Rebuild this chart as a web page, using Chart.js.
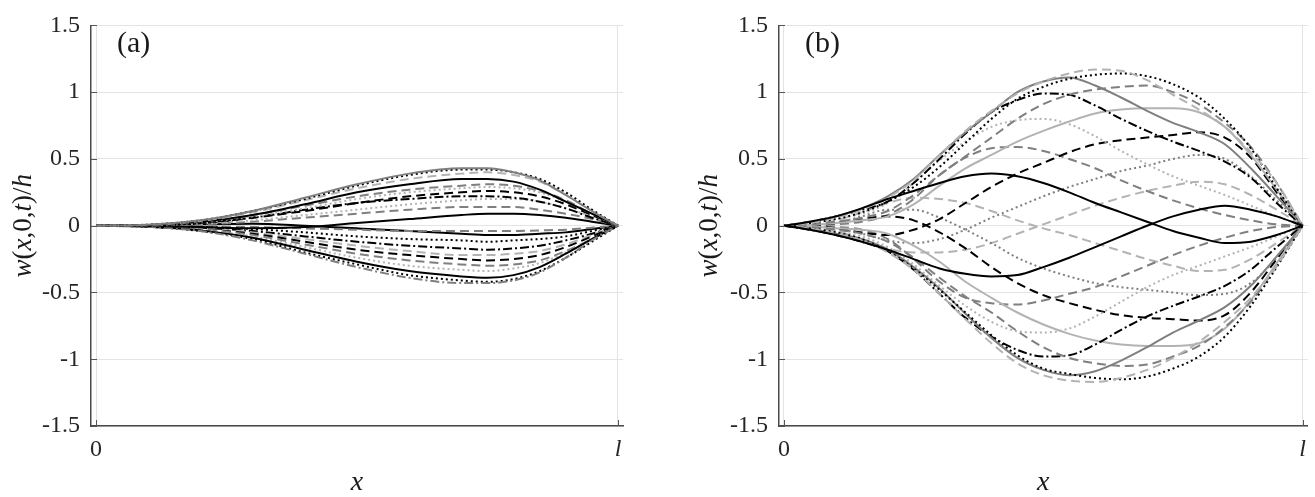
<!DOCTYPE html>
<html>
<head>
<meta charset="utf-8">
<title>w(x,0,t)/h</title>
<script src="https://cdn.jsdelivr.net/npm/chart.js@4.4.1/dist/chart.umd.min.js"></script>
<style>
  html, body { margin: 0; padding: 0; background: #fff; }
  body { width: 1315px; height: 497px; position: relative; overflow: hidden; }
  .painel { position: absolute; top: 0; height: 497px; }
  #painelA { left: 0; width: 660px; }
  #painelB { left: 660px; width: 655px; }
</style>
</head>
<body>
<div class="painel" id="painelA"><canvas id="graficoA" width="660" height="497"></canvas></div>
<div class="painel" id="painelB"><canvas id="graficoB" width="655" height="497"></canvas></div>
<script>
// eixos
const yTicks = [-1.5, -1, -0.5, 0, 0.5, 1, 1.5];
const xTicks = [0, 1];
const xTickLabels = ['0', 'l'];

// painel (a) - abscissas x/l
const xA = [0, 0.1, 0.2, 0.3, 0.4, 0.5, 0.6, 0.7, 0.75, 0.8, 0.85, 0.9, 0.95, 1];

// painel (a) - curvas de cima
const a1 = [0, 0.008, 0.04, 0.11, 0.21, 0.31, 0.39, 0.43, 0.43, 0.40, 0.34, 0.23, 0.11, 0];
const a2 = [0, 0.008, 0.04, 0.11, 0.20, 0.30, 0.38, 0.42, 0.42, 0.40, 0.35, 0.25, 0.12, 0];
const a3 = [0, 0.007, 0.035, 0.10, 0.19, 0.28, 0.35, 0.39, 0.40, 0.38, 0.33, 0.23, 0.11, 0];
const a4 = [0, 0.006, 0.03, 0.08, 0.16, 0.25, 0.31, 0.35, 0.35, 0.33, 0.27, 0.18, 0.09, 0];
const a5 = [0, 0.005, 0.03, 0.08, 0.15, 0.22, 0.27, 0.30, 0.31, 0.30, 0.26, 0.19, 0.09, 0];
const a6 = [0, 0.005, 0.025, 0.07, 0.13, 0.20, 0.25, 0.28, 0.29, 0.28, 0.25, 0.18, 0.09, 0];
const a7 = [0, 0.004, 0.02, 0.06, 0.11, 0.17, 0.22, 0.25, 0.26, 0.25, 0.22, 0.16, 0.08, 0];
const a8 = [0, 0.004, 0.02, 0.06, 0.12, 0.17, 0.20, 0.22, 0.22, 0.21, 0.18, 0.13, 0.06, 0];
const a9 = [0, 0.003, 0.015, 0.04, 0.08, 0.12, 0.16, 0.19, 0.20, 0.20, 0.18, 0.13, 0.07, 0];
const a10 = [0, 0.002, 0.01, 0.03, 0.06, 0.09, 0.12, 0.14, 0.14, 0.14, 0.12, 0.09, 0.05, 0];
const a11 = [0, -0.003, -0.01, -0.02, -0.01, 0.02, 0.05, 0.08, 0.09, 0.09, 0.08, 0.06, 0.03, 0];

// painel (a) - curvas de baixo
const a12 = [0, -0.008, -0.04, -0.11, -0.21, -0.31, -0.39, -0.43, -0.43, -0.41, -0.35, -0.24, -0.11, 0];
const a13 = [0, -0.008, -0.04, -0.10, -0.20, -0.29, -0.37, -0.41, -0.42, -0.40, -0.34, -0.24, -0.12, 0];
const a14 = [0, -0.007, -0.035, -0.09, -0.18, -0.27, -0.34, -0.38, -0.39, -0.37, -0.31, -0.21, -0.10, 0];
const a15 = [0, -0.006, -0.03, -0.08, -0.16, -0.24, -0.30, -0.33, -0.34, -0.32, -0.28, -0.20, -0.10, 0];
const a16 = [0, -0.005, -0.025, -0.07, -0.14, -0.21, -0.26, -0.29, -0.30, -0.29, -0.26, -0.19, -0.10, 0];
const a17 = [0, -0.005, -0.025, -0.06, -0.12, -0.18, -0.22, -0.25, -0.26, -0.25, -0.22, -0.16, -0.08, 0];
const a18 = [0, -0.004, -0.02, -0.05, -0.10, -0.15, -0.19, -0.22, -0.22, -0.21, -0.19, -0.14, -0.07, 0];
const a19 = [0, -0.003, -0.015, -0.04, -0.08, -0.12, -0.15, -0.17, -0.18, -0.17, -0.15, -0.11, -0.06, 0];
const a20 = [0, -0.002, -0.01, -0.025, -0.05, -0.08, -0.10, -0.11, -0.12, -0.11, -0.10, -0.08, -0.04, 0];
const a21 = [0, -0.001, -0.005, -0.01, -0.02, -0.03, -0.04, -0.04, -0.04, -0.04, -0.035, -0.03, -0.015, 0];
const a22 = [0, 0.003, 0.01, 0.015, 0, -0.02, -0.04, -0.06, -0.07, -0.07, -0.06, -0.05, -0.025, 0];

// painel (b) - abscissas x/l
const xB = [0, 0.05, 0.1, 0.15, 0.2, 0.25, 0.3, 0.35, 0.4, 0.45, 0.5, 0.55, 0.6, 0.65, 0.7, 0.75, 0.8, 0.85, 0.9, 0.95, 1];

// painel (b) - pares de curvas
const b1 = [0, 0.03, 0.07, 0.13, 0.20, 0.26, 0.32, 0.37, 0.39, 0.37, 0.32, 0.25, 0.17, 0.10, 0.03, -0.04, -0.09, -0.13, -0.12, -0.07, 0];
const b2 = [0, -0.03, -0.07, -0.12, -0.18, -0.25, -0.32, -0.36, -0.38, -0.37, -0.31, -0.24, -0.16, -0.08, 0.00, 0.07, 0.12, 0.15, 0.12, 0.07, 0];
const b3 = [0, 0.02, 0.06, 0.12, 0.21, 0.34, 0.53, 0.71, 0.86, 0.99, 1.08, 1.14, 1.17, 1.16, 1.09, 0.98, 0.87, 0.74, 0.55, 0.32, 0];
const b4 = [0, -0.02, -0.06, -0.11, -0.20, -0.33, -0.51, -0.70, -0.88, -1.03, -1.12, -1.16, -1.17, -1.14, -1.08, -0.99, -0.87, -0.72, -0.54, -0.30, 0];
const b5 = [0, 0.02, 0.05, 0.10, 0.18, 0.29, 0.44, 0.62, 0.80, 0.95, 1.04, 1.10, 1.13, 1.14, 1.12, 1.06, 0.96, 0.80, 0.58, 0.28, 0];
const b6 = [0, -0.02, -0.05, -0.10, -0.19, -0.32, -0.48, -0.65, -0.82, -0.97, -1.07, -1.11, -1.14, -1.15, -1.13, -1.07, -0.98, -0.83, -0.60, -0.31, 0];
const b7 = [0, 0.03, 0.07, 0.13, 0.22, 0.35, 0.53, 0.70, 0.85, 1.00, 1.08, 1.11, 1.05, 0.96, 0.86, 0.77, 0.70, 0.61, 0.43, 0.22, 0];
const b8 = [0, -0.02, -0.06, -0.10, -0.18, -0.31, -0.47, -0.66, -0.84, -0.99, -1.08, -1.12, -1.09, -1.01, -0.91, -0.80, -0.71, -0.61, -0.45, -0.23, 0];
const b9 = [0, 0.01, 0.03, 0.06, 0.11, 0.23, 0.38, 0.52, 0.66, 0.80, 0.91, 0.98, 1.02, 1.04, 1.05, 1.00, 0.91, 0.77, 0.59, 0.32, 0];
const b10 = [0, -0.01, -0.03, -0.06, -0.12, -0.24, -0.39, -0.53, -0.65, -0.79, -0.91, -0.99, -1.03, -1.05, -1.04, -0.98, -0.90, -0.76, -0.57, -0.30, 0];
const b11 = [0, 0.03, 0.07, 0.12, 0.18, 0.32, 0.50, 0.69, 0.85, 0.94, 0.99, 0.98, 0.90, 0.80, 0.71, 0.63, 0.56, 0.48, 0.36, 0.17, 0];
const b12 = [0, -0.03, -0.07, -0.12, -0.19, -0.33, -0.51, -0.69, -0.83, -0.93, -0.98, -0.97, -0.89, -0.78, -0.68, -0.60, -0.53, -0.45, -0.33, -0.16, 0];
const b13 = [0, 0.005, 0.02, 0.04, 0.07, 0.16, 0.30, 0.43, 0.53, 0.63, 0.71, 0.78, 0.84, 0.87, 0.88, 0.88, 0.85, 0.74, 0.53, 0.27, 0];
const b14 = [0, -0.005, -0.02, -0.03, -0.06, -0.15, -0.27, -0.42, -0.54, -0.65, -0.74, -0.81, -0.86, -0.89, -0.90, -0.90, -0.88, -0.77, -0.56, -0.28, 0];
const b15 = [0, 0.02, 0.05, 0.09, 0.17, 0.32, 0.49, 0.63, 0.74, 0.79, 0.80, 0.76, 0.67, 0.56, 0.46, 0.37, 0.30, 0.23, 0.15, 0.07, 0];
const b16 = [0, -0.02, -0.04, -0.08, -0.16, -0.29, -0.45, -0.60, -0.72, -0.79, -0.80, -0.77, -0.68, -0.57, -0.46, -0.37, -0.30, -0.23, -0.16, -0.08, 0];
const b17 = [0, 0, -0.02, -0.05, -0.07, -0.03, 0.05, 0.17, 0.29, 0.39, 0.47, 0.55, 0.61, 0.64, 0.66, 0.68, 0.70, 0.66, 0.51, 0.25, 0];
const b18 = [0, 0, 0.02, 0.05, 0.07, 0.04, -0.05, -0.17, -0.31, -0.43, -0.52, -0.58, -0.63, -0.67, -0.69, -0.70, -0.71, -0.67, -0.50, -0.25, 0];
const b19 = [0, 0.005, 0.01, 0.03, 0.08, 0.20, 0.38, 0.51, 0.58, 0.59, 0.56, 0.50, 0.43, 0.34, 0.26, 0.19, 0.13, 0.08, 0.04, 0.01, 0];
const b20 = [0, -0.005, -0.01, -0.03, -0.10, -0.25, -0.42, -0.54, -0.58, -0.59, -0.56, -0.51, -0.46, -0.38, -0.30, -0.22, -0.15, -0.09, -0.04, -0.01, 0];
const b21 = [0, -0.005, -0.02, -0.06, -0.11, -0.13, -0.10, -0.03, 0.06, 0.14, 0.22, 0.29, 0.35, 0.41, 0.45, 0.50, 0.53, 0.50, 0.37, 0.19, 0];
const b22 = [0, 0.005, 0.02, 0.07, 0.12, 0.12, 0.06, -0.03, -0.13, -0.24, -0.32, -0.38, -0.43, -0.46, -0.48, -0.50, -0.52, -0.51, -0.43, -0.24, 0];
const b23 = [0, -0.01, -0.04, -0.10, -0.17, -0.20, -0.20, -0.18, -0.13, -0.06, 0.01, 0.08, 0.15, 0.21, 0.26, 0.30, 0.33, 0.31, 0.23, 0.12, 0];
const b24 = [0, 0.01, 0.04, 0.10, 0.17, 0.21, 0.20, 0.17, 0.11, 0.04, -0.02, -0.07, -0.13, -0.19, -0.25, -0.30, -0.34, -0.33, -0.25, -0.13, 0];

// estilos (cor + traço)
const cores = { preto: '#000000', cinza: '#7f7f7f', claro: '#b3b3b3' };
const tracos = { solido: [], tracejado: [9, 5], pontilhado: [2, 3], tracoPonto: [9, 3, 2, 3] };
const fonteSerif = "'Liberation Serif', 'Times New Roman', serif";

const curvasA = [
  [a1, 'cinza', 'solido'], [a2, 'preto', 'pontilhado'], [a3, 'claro', 'tracejado'],
  [a4, 'preto', 'solido'], [a5, 'cinza', 'tracejado'], [a6, 'claro', 'pontilhado'],
  [a7, 'preto', 'tracejado'], [a8, 'preto', 'tracoPonto'], [a9, 'claro', 'pontilhado'],
  [a10, 'cinza', 'tracejado'], [a11, 'preto', 'solido'],
  [a12, 'cinza', 'tracoPonto'], [a13, 'preto', 'pontilhado'], [a14, 'preto', 'solido'],
  [a15, 'claro', 'pontilhado'], [a16, 'cinza', 'tracejado'], [a17, 'preto', 'tracejado'],
  [a18, 'claro', 'tracejado'], [a19, 'preto', 'tracoPonto'], [a20, 'preto', 'pontilhado'],
  [a21, 'cinza', 'tracejado'], [a22, 'preto', 'solido']
];

const curvasB = [
  [b1, 'preto', 'solido'], [b2, 'preto', 'solido'],
  [b3, 'claro', 'tracejado'], [b4, 'claro', 'tracejado'],
  [b5, 'preto', 'pontilhado'], [b6, 'preto', 'pontilhado'],
  [b7, 'cinza', 'solido'], [b8, 'cinza', 'solido'],
  [b9, 'cinza', 'tracejado'], [b10, 'cinza', 'tracejado'],
  [b11, 'preto', 'tracoPonto'], [b12, 'preto', 'tracoPonto'],
  [b13, 'claro', 'solido'], [b14, 'claro', 'solido'],
  [b15, 'claro', 'pontilhado'], [b16, 'claro', 'pontilhado'],
  [b17, 'preto', 'tracejado'], [b18, 'preto', 'tracejado'],
  [b19, 'cinza', 'tracejado'], [b20, 'cinza', 'tracejado'],
  [b21, 'cinza', 'pontilhado'], [b22, 'cinza', 'pontilhado'],
  [b23, 'claro', 'tracejado'], [b24, 'claro', 'tracejado']
];

// titulo do eixo y (partes em italico), letra do painel e marcas internas
const rotulos = {
  id: 'rotulos',
  afterDraw(chart, args, opts) {
    const ctx = chart.ctx;
    const area = chart.chartArea;
    const sx = chart.scales.x;
    const sy = chart.scales.y;

    // marcas dos ticks voltadas para dentro
    ctx.save();
    ctx.strokeStyle = '#555555';
    ctx.lineWidth = 1;
    ctx.beginPath();
    xTicks.forEach(v => {
      const px = Math.round(sx.getPixelForValue(v)) + 0.5;
      ctx.moveTo(px, area.bottom);
      ctx.lineTo(px, area.bottom - 6);
    });
    yTicks.forEach(v => {
      const py = Math.round(sy.getPixelForValue(v)) + 0.5;
      ctx.moveTo(area.left, py);
      ctx.lineTo(area.left + 6, py);
    });
    ctx.stroke();
    ctx.restore();

    const partes = [['w', 1], ['(', 0], ['x', 1], [',0,', 0], ['t', 1], [')/', 0], ['h', 1]];
    const fonte = it => (it ? 'italic ' : '') + '27px ' + fonteSerif;
    ctx.save();
    ctx.fillStyle = '#1a1a1a';
    let total = 0;
    partes.forEach(p => { ctx.font = fonte(p[1]); total += ctx.measureText(p[0]).width; });
    ctx.translate(opts.xTitulo, (area.top + area.bottom) / 2);
    ctx.rotate(-Math.PI / 2);
    ctx.textBaseline = 'middle';
    ctx.textAlign = 'left';
    let pos = -total / 2;
    partes.forEach(p => {
      ctx.font = fonte(p[1]);
      ctx.fillText(p[0], pos, 0);
      pos += ctx.measureText(p[0]).width;
    });
    ctx.restore();

    ctx.save();
    ctx.fillStyle = '#1a1a1a';
    ctx.font = '30px ' + fonteSerif;
    ctx.textBaseline = 'middle';
    ctx.textAlign = 'left';
    ctx.fillText(opts.letra, area.left + 26, 44);
    ctx.restore();
  }
};

function criarPainel(canvasId, xs, curvas, cfg) {
  const datasets = curvas.map(c => ({
    data: xs.map((x, i) => ({ x: x, y: c[0][i] })),
    borderColor: cores[c[1]],
    borderDash: tracos[c[2]],
    borderWidth: 2,
    pointRadius: 0,
    fill: false,
    cubicInterpolationMode: 'monotone'
  }));

  return new Chart(document.getElementById(canvasId), {
    type: 'line',
    data: { datasets },
    options: {
      responsive: false,
      animation: false,
      layout: { padding: { left: 0, right: cfg.direita, top: 19, bottom: 0 } },
      plugins: {
        legend: { display: false },
        tooltip: { enabled: false },
        rotulos: { letra: cfg.letra, xTitulo: cfg.xTitulo }
      },
      scales: {
        x: {
          type: 'linear',
          min: -0.0096,
          max: 1.0096,
          afterBuildTicks: s => { s.ticks = xTicks.map(v => ({ value: v })); },
          afterFit: s => { s.height = 71; },
          grid: { color: '#e4e4e4', lineWidth: 1, drawTicks: false },
          border: { display: true, color: '#4a4a4a', width: 1.5 },
          ticks: {
            padding: 9,
            color: '#262626',
            maxRotation: 0,
            autoSkip: false,
            font: c => ({ family: fonteSerif, size: 24, style: c.tick && c.tick.value === 1 ? 'italic' : 'normal' }),
            callback: (v, i) => xTickLabels[i]
          },
          title: {
            display: true,
            text: 'x',
            color: '#1a1a1a',
            font: { family: fonteSerif, size: 28, style: 'italic' },
            padding: { top: 0, bottom: -2 }
          }
        },
        y: {
          min: -1.5,
          max: 1.5,
          afterBuildTicks: s => { s.ticks = yTicks.map(v => ({ value: v })); },
          afterFit: s => { s.width = cfg.larguraY; },
          grid: { color: '#e4e4e4', lineWidth: 1, drawTicks: false },
          border: { display: true, color: '#4a4a4a', width: 1.5 },
          ticks: {
            padding: 11,
            color: '#262626',
            font: { family: fonteSerif, size: 24 },
            callback: v => String(v)
          }
        }
      }
    },
    plugins: [rotulos]
  });
}

criarPainel('graficoA', xA, curvasA, { letra: '(a)', larguraY: 91, direita: 37, xTitulo: 24 });
criarPainel('graficoB', xB, curvasB, { letra: '(b)', larguraY: 119, direita: 4, xTitulo: 50 });
</script>
</body>
</html>
